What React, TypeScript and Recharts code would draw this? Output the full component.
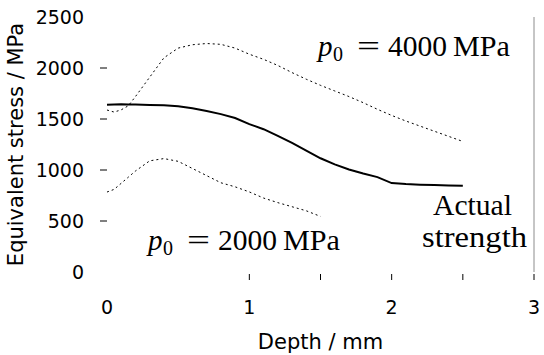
import { LineChart, Line, XAxis, YAxis, ReferenceLine, Customized } from "recharts";

const depth = [0, 0.05, 0.1, 0.15, 0.2, 0.3, 0.4, 0.5, 0.6, 0.7, 0.8, 0.9, 1.0, 1.1, 1.2, 1.3, 1.4, 1.5, 1.6, 1.7, 1.8, 1.9, 2.0, 2.1, 2.2, 2.3, 2.4, 2.5];
const actualStrength = [1640, 1643, 1645, 1643, 1642, 1638, 1635, 1625, 1605, 1578, 1548, 1510, 1450, 1400, 1335, 1265, 1190, 1115, 1055, 1005, 965, 930, 872, 862, 856, 852, 848, 845];
const p4000 = [1588, 1568, 1590, 1630, 1720, 1910, 2100, 2195, 2228, 2240, 2232, 2195, 2135, 2085, 2025, 1955, 1890, 1830, 1775, 1720, 1660, 1595, 1535, 1480, 1430, 1380, 1330, 1280];
const p2000 = [784, 810, 870, 930, 990, 1090, 1112, 1085, 1015, 945, 875, 835, 785, 725, 680, 640, 600, 545];

const xTicks = [0, 0.5, 1, 1.5, 2, 2.5, 3];
const yTicks = [0, 500, 1000, 1500, 2000, 2500];

const rows = depth.map((d, i) => ({
  depth: d,
  actual: actualStrength[i],
  upper: p4000[i],
  lower: i < p2000.length ? p2000[i] : null,
}));

const serif = "'Liberation Serif', 'DejaVu Serif', serif";
const sans = "'DejaVu Sans', Verdana, sans-serif";

const XTick = (props: any) => {
  const { x, y, payload } = props;
  const v = payload.value;
  return (
    <g>
      {v >= 1 && <line x1={x} x2={x} y1={y + 2} y2={y + 8} stroke="#000" strokeWidth={1} />}
      {Number.isInteger(v) && (
        <text x={x} y={y + 42} textAnchor="middle" fontSize={19} fontFamily={sans} fill="#000">
          {v}
        </text>
      )}
    </g>
  );
};

const YTick = (props: any) => {
  const { x, y, payload } = props;
  const v = payload.value;
  return (
    <g>
      {v > 0 && v < 2500 && <line x1={x - 7} x2={x} y1={y} y2={y} stroke="#000" strokeWidth={1} />}
      <text x={x - 23} y={y + 7} textAnchor="end" fontSize={19} fontFamily={sans} fill="#000">
        {v}
      </text>
    </g>
  );
};

// p_0 = N MPa, spaced like the LaTeX label
const Pressure = ({ x, y, value }: { x: number; y: number; value: string }) => (
  <g fontFamily={serif} fill="#000">
    <text x={x} y={y} fontSize={29} fontStyle="italic">p</text>
    <text x={x + 15} y={y + 5} fontSize={20}>0</text>
    <text x={x + 39} y={y} fontSize={29} textLength={23} lengthAdjust="spacingAndGlyphs">=</text>
    <text x={x + 70} y={y} fontSize={29} textLength={59} lengthAdjust="spacingAndGlyphs">{value}</text>
    <text x={x + 135} y={y} fontSize={29} textLength={57} lengthAdjust="spacingAndGlyphs">MPa</text>
  </g>
);

const Annotations = () => (
  <g>
    <Pressure x={318} y={56} value="4000" />
    <Pressure x={148} y={250} value="2000" />
    <g fontFamily={serif} fill="#000" fontSize={29}>
      <text x={433} y={215} textLength={79} lengthAdjust="spacingAndGlyphs">Actual</text>
      <text x={422} y={247} textLength={105} lengthAdjust="spacingAndGlyphs">strength</text>
    </g>
  </g>
);

export default function App() {
  return (
    <div style={{ position: "absolute", left: 0, top: 0, width: 544, height: 355, background: "#fff" }}>
      <LineChart width={544} height={355} data={rows} margin={{ top: 17, right: 10, bottom: 0, left: 0 }}>
        <XAxis
          dataKey="depth"
          type="number"
          domain={[0, 3]}
          ticks={xTicks}
          interval={0}
          axisLine={false}
          tickLine={false}
          tickSize={0}
          tickMargin={0}
          height={83}
          tick={<XTick />}
          label={{ value: "Depth / mm", position: "insideBottom", offset: 6, fontSize: 21, fontFamily: sans, fill: "#000" }}
        />
        <YAxis
          type="number"
          domain={[0, 2500]}
          ticks={yTicks}
          interval={0}
          axisLine={false}
          tickLine={false}
          tickSize={0}
          tickMargin={0}
          width={107}
          tick={<YTick />}
          label={{ value: "Equivalent stress / MPa", angle: -90, position: "insideLeft", offset: 16, fontSize: 21, fontFamily: sans, fill: "#000", style: { textAnchor: "middle" } }}
        />
        <ReferenceLine x={3} stroke="#8c8c8c" strokeWidth={1} />
        <Line dataKey="upper" stroke="#000" strokeWidth={1} strokeDasharray="2 3" dot={false} isAnimationActive={false} type="linear" />
        <Line dataKey="lower" stroke="#000" strokeWidth={1} strokeDasharray="2 3" dot={false} isAnimationActive={false} type="linear" />
        <Line dataKey="actual" stroke="#000" strokeWidth={2} dot={false} isAnimationActive={false} type="linear" />
        <Customized component={Annotations} />
      </LineChart>
    </div>
  );
}
